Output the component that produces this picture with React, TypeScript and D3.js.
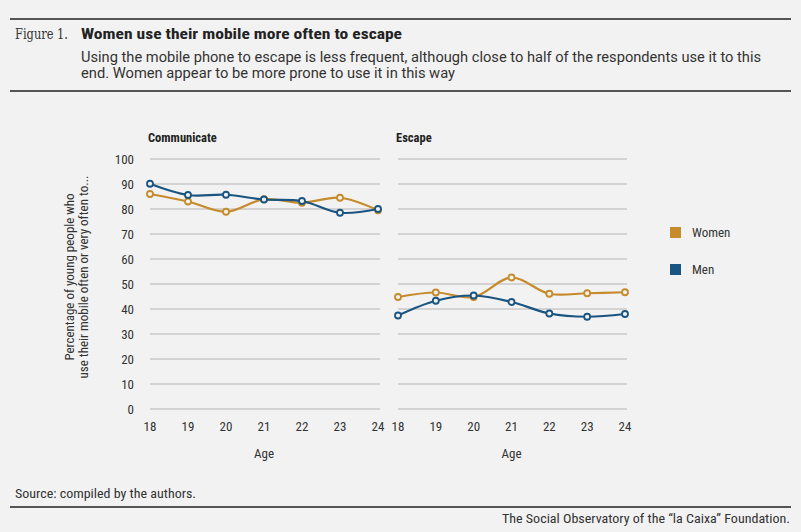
import React from "react";
import * as d3 from "d3";

const ages = [18, 19, 20, 21, 22, 23, 24];
const yTicks = [0, 10, 20, 30, 40, 50, 60, 70, 80, 90, 100];

const communicateWomen = [86, 83, 78.9, 83.9, 82.5, 84.5, 79.5];
const communicateMen = [90.1, 85.6, 85.7, 83.8, 83.2, 78.5, 80];
const escapeWomen = [44.8, 46.6, 44.8, 52.6, 46.1, 46.3, 46.7];
const escapeMen = [37.4, 43.3, 45.4, 42.8, 38.2, 36.9, 38];

const WOMEN = "#c68b2b";
const MEN = "#1a5581";
const FONT = "'Liberation Sans Narrow', 'Roboto Condensed', Roboto, sans-serif";
const BODY = "Roboto, 'Liberation Sans', sans-serif";

const W = 801;
const H = 532;

const y = d3.scaleLinear().domain([0, 100]).range([409, 159]);

interface PanelProps {
  title: string;
  x0: number;
  x1: number;
  women: number[];
  men: number[];
}

const Panel: React.FC<PanelProps> = ({ title, x0, x1, women, men }) => {
  const x = d3.scaleLinear().domain([18, 24]).range([x0, x1]);
  const line = d3
    .line<number>()
    .x((_, i) => x(ages[i]))
    .y((d) => y(d))
    .curve(d3.curveCatmullRom.alpha(0.5));

  const series = [
    { values: women, color: WOMEN },
    { values: men, color: MEN },
  ];

  return (
    <g>
      <text x={x0 - 2} y={142} fontSize={12.5} fontWeight="bold" fill="#222">
        {title}
      </text>
      {yTicks.map((t) => (
        <line key={t} x1={x0} x2={x1 + 2} y1={y(t)} y2={y(t)} stroke="#b4b4b4" strokeWidth={1.2} />
      ))}
      {ages.map((a) => (
        <text key={a} x={x(a)} y={431} textAnchor="middle" fontSize={13} fill="#333">
          {a}
        </text>
      ))}
      <text x={(x0 + x1) / 2} y={458} textAnchor="middle" fontSize={13} fill="#333">
        Age
      </text>
      {series.map((s, k) => (
        <g key={k}>
          <path d={line(s.values) || ""} fill="none" stroke={s.color} strokeWidth={2.2} />
          {s.values.map((v, i) => (
            <circle key={i} cx={x(ages[i])} cy={y(v)} r={3} fill="#f2f2f2" stroke={s.color} strokeWidth={1.8} />
          ))}
        </g>
      ))}
    </g>
  );
};

export default function App() {
  return (
    <svg width={W} height={H} style={{ position: "absolute", left: 0, top: 0, background: "#f2f2f2" }} fontFamily={FONT}>
      <rect width={W} height={H} fill="#f2f2f2" />
      <line x1={10} x2={791} y1={19} y2={19} stroke="#555" strokeWidth={2} />
      <text x={15} y={39} fontSize={14} fontFamily="'DejaVu Serif', 'Liberation Serif', serif" fill="#333" textLength={53} lengthAdjust="spacingAndGlyphs">
        Figure 1.
      </text>
      <text x={81} y={39} fontSize={15} fontWeight="bold" fill="#222" textLength={321} lengthAdjust="spacingAndGlyphs">
        Women use their mobile more often to escape
      </text>
      <text x={81} y={62} fontSize={14} fontFamily={BODY} fill="#333" textLength={680} lengthAdjust="spacingAndGlyphs">
        Using the mobile phone to escape is less frequent, although close to half of the respondents use it to this
      </text>
      <text x={81} y={78} fontSize={14} fontFamily={BODY} fill="#333" textLength={374} lengthAdjust="spacingAndGlyphs">
        end. Women appear to be more prone to use it in this way
      </text>
      <line x1={10} x2={791} y1={91} y2={91} stroke="#555" strokeWidth={2} />

      {yTicks.map((t) => (
        <text key={t} x={134} y={y(t) + 4.5} textAnchor="end" fontSize={13} fill="#333">
          {t}
        </text>
      ))}
      <g transform="translate(0,277) rotate(-90)">
        <text x={0} y={74} textAnchor="middle" fontSize={13} fill="#333">
          Percentage of young people who
        </text>
        <text x={0} y={88} textAnchor="middle" fontSize={13} fill="#333">
          use their mobile often or very often to...
        </text>
      </g>

      <Panel title="Communicate" x0={150} x1={378} women={communicateWomen} men={communicateMen} />
      <Panel title="Escape" x0={398} x1={625} women={escapeWomen} men={escapeMen} />

      <rect x={670} y={227} width={11} height={11} fill={WOMEN} />
      <text x={692} y={237} fontSize={13} fill="#333">
        Women
      </text>
      <rect x={670} y={264} width={11} height={11} fill={MEN} />
      <text x={692} y={274} fontSize={13} fill="#333">
        Men
      </text>

      <text x={15} y={498} fontSize={12} fill="#333" textLength={181} lengthAdjust="spacingAndGlyphs">
        Source: compiled by the authors.
      </text>
      <line x1={10} x2={791} y1={507} y2={507} stroke="#555" strokeWidth={2} />
      <text x={790} y={523} textAnchor="end" fontSize={12} fill="#333" textLength={288} lengthAdjust="spacingAndGlyphs">
        The Social Observatory of the “la Caixa” Foundation.
      </text>
    </svg>
  );
}
